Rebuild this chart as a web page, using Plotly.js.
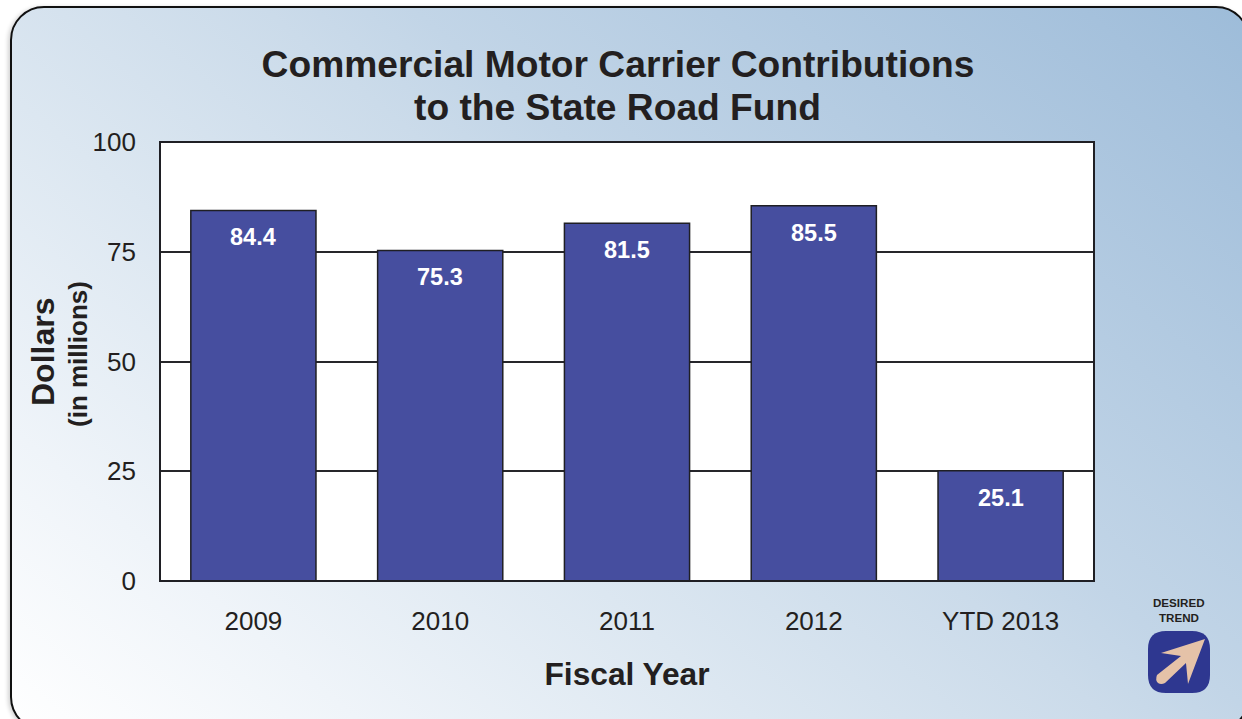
<!DOCTYPE html>
<html>
<head>
<meta charset="utf-8">
<script src="https://cdn.plot.ly/plotly-3.0.1.min.js"></script>
<style>
html,body{margin:0;padding:0;width:1242px;height:719px;overflow:hidden;background:#fff;}
#panel{position:absolute;left:10px;top:6px;width:1240px;height:725px;box-sizing:border-box;border:2.5px solid #111;border-radius:34px;
background:linear-gradient(40deg,#ffffff 0%,#eff4f9 17%,#dce7f1 36%,#cbdbea 53%,#c2d5e7 60%,#a5c1dc 92%,#9dbcd9 100%);box-shadow:-2px 1px 4px rgba(0,0,0,.18);}
#chart{position:absolute;left:0;top:0;width:1242px;height:719px;}
</style>
</head>
<body>
<div id="panel"></div>
<div id="chart"></div>
<script>
const categories = ["2009","2010","2011","2012","YTD 2013"];
const values = [84.4,75.3,81.5,85.5,25.1];
const valueLabels = ["84.4","75.3","81.5","85.5","25.1"];
const yTicks = [0,25,50,75,100];

const ink = "#231f20";
const W = 934, H = 439, L = 160, B = 581;
const px = x => ((x - L) / W).toFixed(5);
const py = y => ((B - y) / H).toFixed(5);
const P = (x, y) => px(x) + "," + py(y);

const squarePath = "M" + P(1166,631) + " L" + P(1192,631) + " Q" + P(1210,631) + " " + P(1210,649) +
  " L" + P(1210,675) + " Q" + P(1210,693) + " " + P(1192,693) + " L" + P(1166,693) +
  " Q" + P(1148,693) + " " + P(1148,675) + " L" + P(1148,649) + " Q" + P(1148,631) + " " + P(1166,631) + " Z";
const arrowPath = "M" + P(1205,639) + " L" + P(1161,653) + " L" + P(1181,656) + " L" + P(1157,675) +
  " Q" + P(1155,680) + " " + P(1158,683) + " Q" + P(1161,685) + " " + P(1165,683) +
  " L" + P(1186,663) + " L" + P(1188,684) + " Z";

const trace = {
  type: "bar", x: categories, y: values, width: 0.67,
  marker: {color: "#464e9f", line: {color: "#1f1f24", width: 1.5}},
  hoverinfo: "x+y", cliponaxis: false
};

const annotations = categories.map((c, i) => ({
  x: i, y: values[i], xref: "x", yref: "y", text: valueLabels[i],
  showarrow: false, xanchor: "center", yanchor: "middle", yshift: -27,
  font: {family: "Liberation Sans", size: 23.5, color: "#ffffff", weight: 700}
}));
function note(x, y, text, size, angle, color) {
  return {xref:"paper", yref:"paper", x:+px(x), y:+py(y), text:text, textangle:angle||0, showarrow:false,
    xanchor:"center", yanchor:"middle", font:{family:"Liberation Sans", size:size, color:color||ink, weight:700}};
}
annotations.push(
  note(1179, 602, "DESIRED", 11.6),
  note(1179, 618, "TREND", 11.6),
  note(43, 352, "Dollars", 32, -90),
  note(78, 354, "(in millions)", 26, -90),
  note(618, 107, "to the State Road Fund", 37.2)
);

const layout = {
  width: 1242, height: 719,
  margin: {l: 160, r: 148, t: 142, b: 138, pad: 0},
  paper_bgcolor: "rgba(0,0,0,0)", plot_bgcolor: "#ffffff",
  showlegend: false, bargap: 0.33,
  font: {family: "Liberation Sans", color: ink},
  title: {
    text: "<b>Commercial Motor Carrier Contributions</b>",
    x: 618/1242, xref: "container", xanchor: "center",
    y: 1 - 64/719, yref: "container", yanchor: "middle",
    font: {family: "Liberation Sans", size: 37.2, color: ink}
  },
  xaxis: {
    type: "category", categoryorder: "array", categoryarray: categories,
    range: [-0.5, 4.5],
    showline: false,
    ticks: "", showgrid: false, ticklabelstandoff: 22,
    tickfont: {family: "Liberation Sans", size: 26, color: ink},
    title: {text: "<b>Fiscal Year</b>", standoff: 27, font: {family: "Liberation Sans", size: 31.7, color: ink}},
    automargin: false
  },
  yaxis: {
    range: [0,100], tickvals: yTicks, ticktext: yTicks.map(String), tickmode: "array",
    showline: false,
    ticks: "", ticklabelstandoff: 23,
    showgrid: true, gridcolor: "#26262a", gridwidth: 2, zeroline: false,
    tickfont: {family: "Liberation Sans", size: 26, color: ink},
    automargin: false
  },
  annotations: annotations,
  shapes: [
    {type:"rect", xref:"paper", yref:"paper", x0:0, x1:1, y0:0, y1:1, layer:"above", fillcolor:"rgba(0,0,0,0)", line:{color:"#1f1f24", width:2}},
    {type:"path", xref:"paper", yref:"paper", path:squarePath, fillcolor:"#2e3790", line:{width:0}},
    {type:"path", xref:"paper", yref:"paper", path:arrowPath, fillcolor:"#e5c2a8", line:{width:0}}
  ]
};
Plotly.newPlot("chart", [trace], layout, {displayModeBar:false, staticPlot:true});
</script>
</body>
</html>
